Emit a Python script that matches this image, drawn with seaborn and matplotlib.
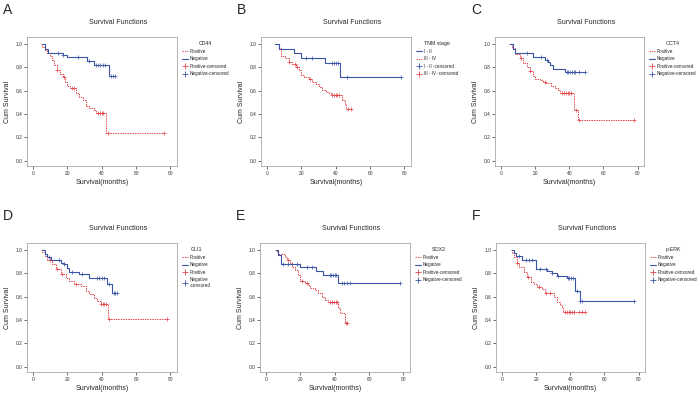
import numpy as np
import matplotlib
matplotlib.use("Agg")
import matplotlib.pyplot as plt
from matplotlib.lines import Line2D
import seaborn as sns

sns.set_style("white")
plt.rcParams['font.family'] = ['Liberation Sans', 'DejaVu Sans']

# ---- datos (meses, supervivencia acumulada) ----
# A - CD44
a_neg_t = [5.3, 6.8, 8.5, 17.5, 20, 31.7, 35.5, 44, 48]
a_neg_s = [1.0, 0.96, 0.926, 0.905, 0.886, 0.854, 0.82, 0.726, 0.726]
a_neg_c = [14.7, 17.5, 26, 32.3, 36.4, 37.7, 39.2, 40.7, 42, 45.3, 46.4, 47.5]
a_pos_t = [4.5, 5.3, 6.8, 8.1, 10, 11.3, 12.5, 13.8, 15.7, 17.5, 18.9, 20, 21.3,
           25.1, 27, 28.9, 30.8, 32.6, 35.5, 36.8, 42.3, 76]
a_pos_s = [1.0, 0.977, 0.949, 0.92, 0.897, 0.863, 0.82, 0.777, 0.743, 0.714, 0.677,
           0.64, 0.62, 0.577, 0.549, 0.52, 0.469, 0.449, 0.434, 0.406, 0.24, 0.24]
a_pos_c = [14, 18, 22.5, 24, 38, 39, 40, 41, 43.5, 76]

# B - TNM stage
b_neg_t = [4.9, 6.8, 15.6, 19.5, 34, 42.5, 78]
b_neg_s = [1.0, 0.957, 0.92, 0.877, 0.84, 0.714, 0.714]
b_neg_c = [22.8, 26, 38, 39, 40, 41.4, 46.8, 78]
b_pos_t = [4.9, 6.8, 8.2, 10.7, 12.7, 14.6, 16.6, 18.5, 19.5, 21.5, 24.4, 26.3,
           28.3, 30.2, 32.2, 34.1, 36.1, 37.1, 43.9, 45.3, 45.9, 48.8]
b_pos_s = [1.0, 0.963, 0.897, 0.877, 0.849, 0.829, 0.806, 0.777, 0.734, 0.72, 0.697,
           0.677, 0.657, 0.634, 0.606, 0.591, 0.577, 0.563, 0.52, 0.49, 0.44, 0.44]
b_pos_c = [13, 16, 17.5, 25, 38, 39, 40, 41, 42, 47, 48.8]

# C - OCT4
c_neg_t = [5.2, 6.8, 8.5, 18.8, 26, 27.5, 29, 30.5, 37.3, 49.5]
c_neg_s = [1.0, 0.96, 0.92, 0.886, 0.86, 0.845, 0.82, 0.79, 0.76, 0.76]
c_neg_c = [15, 23.3, 27.2, 38.5, 39.5, 40.5, 41.5, 42.5, 43.5, 46, 49.5]
c_pos_t = [4.7, 6.2, 8.5, 11.1, 13, 15, 16.9, 18.8, 20.2, 22.7, 24.7, 26.6, 29.5,
           31.8, 33.4, 34.4, 42.5, 45, 77.7]
c_pos_s = [1.0, 0.963, 0.914, 0.877, 0.834, 0.806, 0.771, 0.726, 0.703, 0.691, 0.677,
           0.663, 0.64, 0.62, 0.606, 0.577, 0.434, 0.349, 0.349]
c_pos_c = [12, 17, 26, 36, 37, 38, 39, 40, 41, 44, 46, 77.7]

# D - GLI1
d_neg_t = [5.4, 7, 8.3, 10.3, 16.1, 18, 19.6, 20.9, 26.7, 32.6, 42.8, 46.1, 49]
d_neg_s = [1.0, 0.963, 0.94, 0.912, 0.892, 0.883, 0.843, 0.815, 0.792, 0.763, 0.707,
           0.63, 0.63]
d_neg_c = [9.3, 15, 18, 22.7, 28.7, 37, 38.5, 40, 41.5, 44.5, 47, 48, 49]
d_pos_t = [4.8, 5.4, 7, 8.3, 11.2, 13.2, 16.1, 19, 20.9, 23.8, 27.7, 30.6, 32.6,
           35.5, 37.4, 39.3, 43.6, 78]
d_pos_s = [1.0, 0.986, 0.949, 0.912, 0.877, 0.835, 0.792, 0.758, 0.735, 0.712, 0.692,
           0.65, 0.621, 0.593, 0.564, 0.54, 0.407, 0.407]
d_pos_c = [10, 14, 17, 25, 39.5, 40.5, 41.5, 42.5, 44.5, 78]

# E - SOX2
e_neg_t = [5.8, 6.8, 8.5, 19.8, 29.1, 33, 42.1, 78]
e_neg_s = [1.0, 0.957, 0.88, 0.857, 0.82, 0.79, 0.714, 0.714]
e_neg_c = [10.1, 12.8, 15, 17.9, 23.7, 26.6, 37, 38, 39, 40, 41, 44, 45.5, 47, 49, 78]
e_pos_t = [5.3, 6.5, 7.2, 11.1, 12, 14, 15, 16.9, 18.8, 19.8, 22.7, 24.7, 25.6,
           28.5, 30.5, 32.4, 34.4, 36.3, 42.1, 43.1, 46, 47.4]
e_pos_s = [1.0, 0.98, 0.963, 0.943, 0.914, 0.891, 0.857, 0.829, 0.786, 0.734, 0.714,
           0.7, 0.677, 0.657, 0.629, 0.6, 0.571, 0.551, 0.5, 0.457, 0.377, 0.377]
e_pos_c = [13, 21, 24, 37.5, 38.5, 39.5, 40.5, 41.5, 46.5, 47.4]

# F - p-ERK
f_neg_t = [5.6, 7.1, 8.1, 11.9, 20.2, 26.4, 29.3, 32.2, 38, 42.8, 45.7, 77.5]
f_neg_s = [1.0, 0.977, 0.949, 0.914, 0.84, 0.823, 0.806, 0.78, 0.757, 0.651, 0.566,
           0.566]
f_neg_c = [10, 13.9, 15.8, 17.7, 22.5, 26, 29.3, 33, 38.5, 39.5, 40.5, 41.8, 43.7,
           46, 47, 77.5]
f_pos_t = [5.0, 5.6, 7.1, 8.7, 10, 12.9, 14.8, 16.8, 18.7, 20.6, 23.5, 25.4, 30.2,
           32.2, 34.1, 35.1, 36, 48.6]
f_pos_s = [1.0, 0.971, 0.943, 0.886, 0.857, 0.814, 0.771, 0.729, 0.709, 0.686, 0.663,
           0.634, 0.6, 0.557, 0.529, 0.5, 0.471, 0.471]
f_pos_c = [9, 15.5, 21.5, 26, 28, 37, 38, 39, 40, 41, 42, 45, 47, 48.6]

letras = ['A', 'B', 'C', 'D', 'E', 'F']
marcadores = ['CD44', 'TNM stage', 'OCT4', 'GLI1', 'SOX2', 'p-ERK']
etiquetas = [
    ['Positive', 'Negative', 'Positive-censored', 'Negative-censored'],
    ['I - II', 'III - IV', 'I - II -censored', 'III - IV -censored'],
    ['Positive', 'Negative', 'Positive-censored', 'Negative-censored'],
    ['Positive', 'Negative', 'Positive', 'Negative\n-censored'],
    ['Positive', 'Negative', 'Positive-censored', 'Negative-censored'],
    ['Positive', 'Negative', 'Positive-censored', 'Negative-censored'],
]
datos = [
    (a_neg_t, a_neg_s, a_neg_c, a_pos_t, a_pos_s, a_pos_c),
    (b_neg_t, b_neg_s, b_neg_c, b_pos_t, b_pos_s, b_pos_c),
    (c_neg_t, c_neg_s, c_neg_c, c_pos_t, c_pos_s, c_pos_c),
    (d_neg_t, d_neg_s, d_neg_c, d_pos_t, d_pos_s, d_pos_c),
    (e_neg_t, e_neg_s, e_neg_c, e_pos_t, e_pos_s, e_pos_c),
    (f_neg_t, f_neg_s, f_neg_c, f_pos_t, f_pos_s, f_pos_c),
]

AZUL = '#3a55a6'
ROJO = '#e2474b'
W, H = 699, 394

# cajas de los graficos en pixeles (izq, der, arriba, abajo)
cajas = [(27, 177, 37, 166), (261, 411, 37, 166), (495, 644, 37, 166),
         (27, 177, 243, 372), (260, 410, 243, 372), (496, 645, 243, 372)]


def valor_en(t, s, tc):
    idx = np.searchsorted(t, tc, side='right') - 1
    return np.array(s)[np.clip(idx, 0, len(s) - 1)]


fig = plt.figure(figsize=(W / 100, H / 100), dpi=100)

for i, (l, r, top, bot) in enumerate(cajas):
    ax = fig.add_axes([l / W, 1 - bot / H, (r - l) / W, (bot - top) / H])
    neg_t, neg_s, neg_c, pos_t, pos_s, pos_c = datos[i]

    sns.lineplot(x=pos_t, y=pos_s, ax=ax, drawstyle='steps-post', color=ROJO,
                 lw=0.7, linestyle=(0, (1.5, 1)), sort=False)
    sns.lineplot(x=neg_t, y=neg_s, ax=ax, drawstyle='steps-post', color=AZUL,
                 lw=0.8, sort=False)
    sns.scatterplot(x=pos_c, y=valor_en(pos_t, pos_s, pos_c), ax=ax, marker='+',
                    color=ROJO, s=7, linewidth=0.5)
    sns.scatterplot(x=neg_c, y=valor_en(neg_t, neg_s, neg_c), ax=ax, marker='+',
                    color=AZUL, s=7, linewidth=0.5)

    ax.set_xlim(-3.5, 83.8)
    ax.set_ylim(-0.045, 1.06)
    ax.set_xticks([0, 20, 40, 60, 80])
    ax.set_yticks([0.0, 0.2, 0.4, 0.6, 0.8, 1.0])
    ax.set_yticklabels(['0.0', '0.2', '0.4', '0.6', '0.8', '1.0'])
    ax.tick_params(direction='out', length=2, width=0.5, labelsize=3.5, pad=1.5,
                   colors='#333333', left=True, bottom=True)
    for sp in ax.spines.values():
        sp.set_color('#a8a8a8')
        sp.set_linewidth(0.6)
    ax.set_xlabel('Survival(months)', fontsize=5, labelpad=2)
    ax.set_ylabel('Cum Survival', fontsize=5, labelpad=3)
    ax.text(0.61, 1.115, 'Survival Functions', transform=ax.transAxes,
            ha='center', va='center', fontsize=5)

    h_pos = Line2D([], [], color=ROJO, lw=0.7, linestyle=(0, (1.5, 1)))
    h_neg = Line2D([], [], color=AZUL, lw=0.8)
    c_pos = Line2D([], [], color=ROJO, lw=0, marker='+', markersize=4, mew=0.6)
    c_neg = Line2D([], [], color=AZUL, lw=0, marker='+', markersize=4, mew=0.6)
    lab = etiquetas[i]
    if i == 1:
        manejadores = [h_neg, h_pos, c_neg, c_pos]
    else:
        manejadores = [h_pos, h_neg, c_pos, c_neg]
    leg = ax.legend(manejadores, lab, title=marcadores[i], loc='upper left',
                    bbox_to_anchor=(1.02, 0.98), frameon=False, fontsize=3.3,
                    title_fontsize=3.8, handlelength=1.3, labelspacing=0.55,
                    borderaxespad=0, handletextpad=0.4)

    fig.text((l - 24) / W, 1 - (top - 27) / H, letras[i], fontsize=10,
             ha='left', va='center')

fig.savefig('out.png', dpi=100)
